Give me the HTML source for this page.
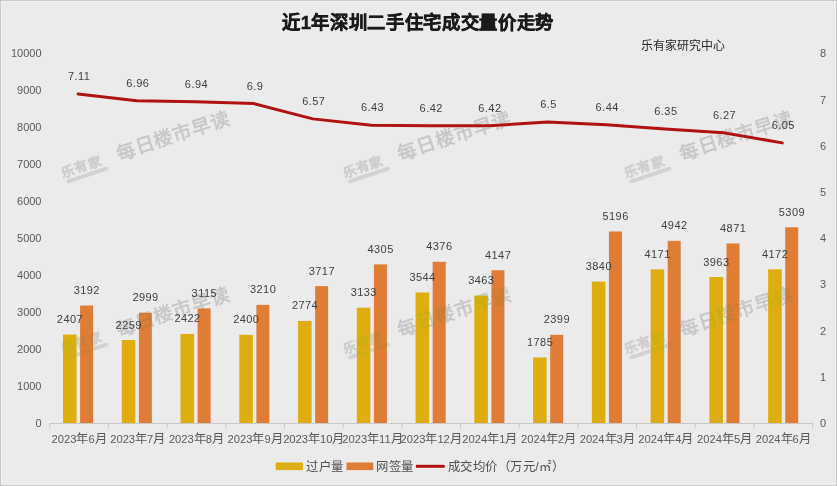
<!DOCTYPE html>
<html lang="zh-CN"><head><meta charset="utf-8">
<style>
html,body{margin:0;padding:0;}
body{width:837px;height:486px;overflow:hidden;background:#ebebeb;font-family:"Liberation Sans",sans-serif;}
#f{position:absolute;left:0;top:0;width:835px;height:484px;border:1px solid #c8c8c8;box-shadow:inset 0 0 0 1px #f1f1f1;}
svg{position:absolute;left:0;top:0;}
text{font-family:"Liberation Sans",sans-serif;}
.lb{font-size:11px;fill:#404040;text-anchor:middle;letter-spacing:0.45px;}
.ax{font-size:11px;fill:#595959;}
.cj{font-size:12.3px;}
.cat{font-size:11.2px;fill:#595959;text-anchor:middle;}
.title{font-size:18.3px;letter-spacing:0.65px;font-weight:bold;fill:#1a1a1a;stroke:#1a1a1a;stroke-width:0.5px;text-anchor:middle;}
.src{font-size:12px;fill:#262626;}
.leg{font-size:12.4px;letter-spacing:0.55px;fill:#505050;}
</style></head><body><div id="f"></div>
<svg width="837" height="486" viewBox="0 0 837 486">
<rect x="63.00" y="334.54" width="13.6" height="88.76" fill="#DEAE10"/>
<rect x="80.10" y="305.52" width="13" height="117.78" fill="#DF7C36"/>
<rect x="121.76" y="340.01" width="13.6" height="83.29" fill="#DEAE10"/>
<rect x="138.86" y="312.66" width="13" height="110.64" fill="#DF7C36"/>
<rect x="180.52" y="333.98" width="13.6" height="89.32" fill="#DEAE10"/>
<rect x="197.62" y="308.37" width="13" height="114.93" fill="#DF7C36"/>
<rect x="239.28" y="334.80" width="13.6" height="88.50" fill="#DEAE10"/>
<rect x="256.38" y="304.86" width="13" height="118.44" fill="#DF7C36"/>
<rect x="298.04" y="320.97" width="13.6" height="102.33" fill="#DEAE10"/>
<rect x="315.14" y="286.12" width="13" height="137.18" fill="#DF7C36"/>
<rect x="356.80" y="307.70" width="13.6" height="115.60" fill="#DEAE10"/>
<rect x="373.90" y="264.39" width="13" height="158.91" fill="#DF7C36"/>
<rect x="415.56" y="292.51" width="13.6" height="130.79" fill="#DEAE10"/>
<rect x="432.66" y="261.76" width="13" height="161.54" fill="#DF7C36"/>
<rect x="474.32" y="295.51" width="13.6" height="127.79" fill="#DEAE10"/>
<rect x="491.42" y="270.23" width="13" height="153.07" fill="#DF7C36"/>
<rect x="533.08" y="357.53" width="13.6" height="65.77" fill="#DEAE10"/>
<rect x="550.18" y="334.83" width="13" height="88.47" fill="#DF7C36"/>
<rect x="591.84" y="281.57" width="13.6" height="141.73" fill="#DEAE10"/>
<rect x="608.94" y="231.46" width="13" height="191.84" fill="#DF7C36"/>
<rect x="650.60" y="269.34" width="13.6" height="153.96" fill="#DEAE10"/>
<rect x="667.70" y="240.84" width="13" height="182.46" fill="#DF7C36"/>
<rect x="709.36" y="277.03" width="13.6" height="146.27" fill="#DEAE10"/>
<rect x="726.46" y="243.47" width="13" height="179.83" fill="#DF7C36"/>
<rect x="768.12" y="269.30" width="13.6" height="154.00" fill="#DEAE10"/>
<rect x="785.22" y="227.28" width="13" height="196.02" fill="#DF7C36"/>
<line x1="49.75" y1="423.5" x2="812.6" y2="423.5" stroke="#c8c8c8" stroke-width="1"/>
<line x1="49.75" y1="423" x2="49.75" y2="428.5" stroke="#c8c8c8" stroke-width="1"/>
<line x1="108.43" y1="423" x2="108.43" y2="428.5" stroke="#c8c8c8" stroke-width="1"/>
<line x1="167.11" y1="423" x2="167.11" y2="428.5" stroke="#c8c8c8" stroke-width="1"/>
<line x1="225.79" y1="423" x2="225.79" y2="428.5" stroke="#c8c8c8" stroke-width="1"/>
<line x1="284.47" y1="423" x2="284.47" y2="428.5" stroke="#c8c8c8" stroke-width="1"/>
<line x1="343.15" y1="423" x2="343.15" y2="428.5" stroke="#c8c8c8" stroke-width="1"/>
<line x1="401.83" y1="423" x2="401.83" y2="428.5" stroke="#c8c8c8" stroke-width="1"/>
<line x1="460.52" y1="423" x2="460.52" y2="428.5" stroke="#c8c8c8" stroke-width="1"/>
<line x1="519.20" y1="423" x2="519.20" y2="428.5" stroke="#c8c8c8" stroke-width="1"/>
<line x1="577.88" y1="423" x2="577.88" y2="428.5" stroke="#c8c8c8" stroke-width="1"/>
<line x1="636.56" y1="423" x2="636.56" y2="428.5" stroke="#c8c8c8" stroke-width="1"/>
<line x1="695.24" y1="423" x2="695.24" y2="428.5" stroke="#c8c8c8" stroke-width="1"/>
<line x1="753.92" y1="423" x2="753.92" y2="428.5" stroke="#c8c8c8" stroke-width="1"/>
<line x1="812.60" y1="423" x2="812.60" y2="428.5" stroke="#c8c8c8" stroke-width="1"/>
<polyline points="78.09,93.92 136.77,100.85 195.45,101.77 254.13,103.62 312.81,118.87 371.49,125.33 430.18,125.80 488.86,125.80 547.54,122.10 606.22,124.87 664.90,129.03 723.58,132.73 782.26,142.89" fill="none" stroke="#B01212" stroke-width="3" stroke-linejoin="round" stroke-linecap="round"/>
<g style="mix-blend-mode:darken" fill="#c8c8c8">
<g transform="translate(0.0,0.0)"><text transform="translate(63,177.6) rotate(-18.5)" font-size="13" font-weight="bold" letter-spacing="1.1" fill="#cfcfcf" stroke="#cfcfcf" stroke-width="0.5">乐有家</text><rect transform="translate(66.5,182) rotate(-18.5)" x="0" y="-1.9" width="44" height="3.8" rx="1.9" fill="#d2d2d2"/><text transform="translate(118.7,160.6) rotate(-18)" font-size="19" font-weight="bold" letter-spacing="0.8">每日楼市早读</text></g>
<g transform="translate(281.5,0.0)"><text transform="translate(63,177.6) rotate(-18.5)" font-size="13" font-weight="bold" letter-spacing="1.1" fill="#cfcfcf" stroke="#cfcfcf" stroke-width="0.5">乐有家</text><rect transform="translate(66.5,182) rotate(-18.5)" x="0" y="-1.9" width="44" height="3.8" rx="1.9" fill="#d2d2d2"/><text transform="translate(118.7,160.6) rotate(-18)" font-size="19" font-weight="bold" letter-spacing="0.8">每日楼市早读</text></g>
<g transform="translate(563.0,0.0)"><text transform="translate(63,177.6) rotate(-18.5)" font-size="13" font-weight="bold" letter-spacing="1.1" fill="#cfcfcf" stroke="#cfcfcf" stroke-width="0.5">乐有家</text><rect transform="translate(66.5,182) rotate(-18.5)" x="0" y="-1.9" width="44" height="3.8" rx="1.9" fill="#d2d2d2"/><text transform="translate(118.7,160.6) rotate(-18)" font-size="19" font-weight="bold" letter-spacing="0.8">每日楼市早读</text></g>
<g transform="translate(0.0,176.0)"><text transform="translate(63,177.6) rotate(-18.5)" font-size="13" font-weight="bold" letter-spacing="1.1" fill="#cfcfcf" stroke="#cfcfcf" stroke-width="0.5">乐有家</text><rect transform="translate(66.5,182) rotate(-18.5)" x="0" y="-1.9" width="44" height="3.8" rx="1.9" fill="#d2d2d2"/><text transform="translate(118.7,160.6) rotate(-18)" font-size="19" font-weight="bold" letter-spacing="0.8">每日楼市早读</text></g>
<g transform="translate(281.5,176.0)"><text transform="translate(63,177.6) rotate(-18.5)" font-size="13" font-weight="bold" letter-spacing="1.1" fill="#cfcfcf" stroke="#cfcfcf" stroke-width="0.5">乐有家</text><rect transform="translate(66.5,182) rotate(-18.5)" x="0" y="-1.9" width="44" height="3.8" rx="1.9" fill="#d2d2d2"/><text transform="translate(118.7,160.6) rotate(-18)" font-size="19" font-weight="bold" letter-spacing="0.8">每日楼市早读</text></g>
<g transform="translate(563.0,176.0)"><text transform="translate(63,177.6) rotate(-18.5)" font-size="13" font-weight="bold" letter-spacing="1.1" fill="#cfcfcf" stroke="#cfcfcf" stroke-width="0.5">乐有家</text><rect transform="translate(66.5,182) rotate(-18.5)" x="0" y="-1.9" width="44" height="3.8" rx="1.9" fill="#d2d2d2"/><text transform="translate(118.7,160.6) rotate(-18)" font-size="19" font-weight="bold" letter-spacing="0.8">每日楼市早读</text></g>
</g>
<text x="70.00" y="323.04" class="lb">2407</text>
<text x="86.80" y="294.02" class="lb">3192</text>
<text x="128.76" y="328.51" class="lb">2259</text>
<text x="145.56" y="301.16" class="lb">2999</text>
<text x="187.52" y="322.48" class="lb">2422</text>
<text x="204.32" y="296.87" class="lb">3115</text>
<text x="246.28" y="323.30" class="lb">2400</text>
<text x="263.08" y="293.36" class="lb">3210</text>
<text x="305.04" y="309.47" class="lb">2774</text>
<text x="321.84" y="274.62" class="lb">3717</text>
<text x="363.80" y="296.20" class="lb">3133</text>
<text x="380.60" y="252.89" class="lb">4305</text>
<text x="422.56" y="281.01" class="lb">3544</text>
<text x="439.36" y="250.26" class="lb">4376</text>
<text x="481.32" y="284.01" class="lb">3463</text>
<text x="498.12" y="258.73" class="lb">4147</text>
<text x="540.08" y="346.03" class="lb">1785</text>
<text x="556.88" y="323.33" class="lb">2399</text>
<text x="598.84" y="270.07" class="lb">3840</text>
<text x="615.64" y="219.96" class="lb">5196</text>
<text x="657.60" y="257.84" class="lb">4171</text>
<text x="674.40" y="229.34" class="lb">4942</text>
<text x="716.36" y="265.53" class="lb">3963</text>
<text x="733.16" y="231.97" class="lb">4871</text>
<text x="775.12" y="257.80" class="lb">4172</text>
<text x="791.92" y="215.78" class="lb">5309</text>
<text x="79.09" y="79.82" class="lb">7.11</text>
<text x="137.77" y="86.75" class="lb">6.96</text>
<text x="196.45" y="87.67" class="lb">6.94</text>
<text x="255.13" y="89.52" class="lb">6.9</text>
<text x="313.81" y="104.77" class="lb">6.57</text>
<text x="372.49" y="111.23" class="lb">6.43</text>
<text x="431.18" y="111.70" class="lb">6.42</text>
<text x="489.86" y="111.70" class="lb">6.42</text>
<text x="548.54" y="108.00" class="lb">6.5</text>
<text x="607.22" y="110.77" class="lb">6.44</text>
<text x="665.90" y="114.93" class="lb">6.35</text>
<text x="724.58" y="118.63" class="lb">6.27</text>
<text x="783.26" y="128.79" class="lb">6.05</text>
<text x="41.5" y="427.00" class="ax" text-anchor="end">0</text>
<text x="41.5" y="390.04" class="ax" text-anchor="end">1000</text>
<text x="41.5" y="353.08" class="ax" text-anchor="end">2000</text>
<text x="41.5" y="316.12" class="ax" text-anchor="end">3000</text>
<text x="41.5" y="279.16" class="ax" text-anchor="end">4000</text>
<text x="41.5" y="242.20" class="ax" text-anchor="end">5000</text>
<text x="41.5" y="205.24" class="ax" text-anchor="end">6000</text>
<text x="41.5" y="168.28" class="ax" text-anchor="end">7000</text>
<text x="41.5" y="131.32" class="ax" text-anchor="end">8000</text>
<text x="41.5" y="94.36" class="ax" text-anchor="end">9000</text>
<text x="41.5" y="57.40" class="ax" text-anchor="end">10000</text>
<text x="820" y="427.00" class="ax">0</text>
<text x="820" y="380.80" class="ax">1</text>
<text x="820" y="334.60" class="ax">2</text>
<text x="820" y="288.40" class="ax">3</text>
<text x="820" y="242.20" class="ax">4</text>
<text x="820" y="196.00" class="ax">5</text>
<text x="820" y="149.80" class="ax">6</text>
<text x="820" y="103.60" class="ax">7</text>
<text x="820" y="57.40" class="ax">8</text>
<text x="79.09" y="442.8" class="cat">2023<tspan class="cj">年</tspan>6<tspan class="cj">月</tspan></text>
<text x="137.77" y="442.8" class="cat">2023<tspan class="cj">年</tspan>7<tspan class="cj">月</tspan></text>
<text x="196.45" y="442.8" class="cat">2023<tspan class="cj">年</tspan>8<tspan class="cj">月</tspan></text>
<text x="255.13" y="442.8" class="cat">2023<tspan class="cj">年</tspan>9<tspan class="cj">月</tspan></text>
<text x="313.81" y="442.8" class="cat">2023<tspan class="cj">年</tspan>10<tspan class="cj">月</tspan></text>
<text x="372.49" y="442.8" class="cat">2023<tspan class="cj">年</tspan>11<tspan class="cj">月</tspan></text>
<text x="431.18" y="442.8" class="cat">2023<tspan class="cj">年</tspan>12<tspan class="cj">月</tspan></text>
<text x="489.86" y="442.8" class="cat">2024<tspan class="cj">年</tspan>1<tspan class="cj">月</tspan></text>
<text x="548.54" y="442.8" class="cat">2024<tspan class="cj">年</tspan>2<tspan class="cj">月</tspan></text>
<text x="607.22" y="442.8" class="cat">2024<tspan class="cj">年</tspan>3<tspan class="cj">月</tspan></text>
<text x="665.90" y="442.8" class="cat">2024<tspan class="cj">年</tspan>4<tspan class="cj">月</tspan></text>
<text x="724.58" y="442.8" class="cat">2024<tspan class="cj">年</tspan>5<tspan class="cj">月</tspan></text>
<text x="783.26" y="442.8" class="cat">2024<tspan class="cj">年</tspan>6<tspan class="cj">月</tspan></text>
<text x="418" y="29.1" class="title">近1年深圳二手住宅成交量价走势</text>
<text x="641" y="49.7" class="src">乐有家研究中心</text>
<rect x="275.7" y="462.5" width="27.2" height="7.6" fill="#DEAE10"/>
<text x="306" y="470.6" class="leg">过户量</text>
<rect x="346.5" y="462.5" width="26.7" height="7.6" fill="#DF7C36"/>
<text x="376" y="470.6" class="leg">网签量</text>
<line x1="415.9" y1="466.3" x2="444.7" y2="466.3" stroke="#B01212" stroke-width="3"/>
<text x="447.5" y="470.6" class="leg">成交均价（万元/㎡）</text>
</svg></body></html>
